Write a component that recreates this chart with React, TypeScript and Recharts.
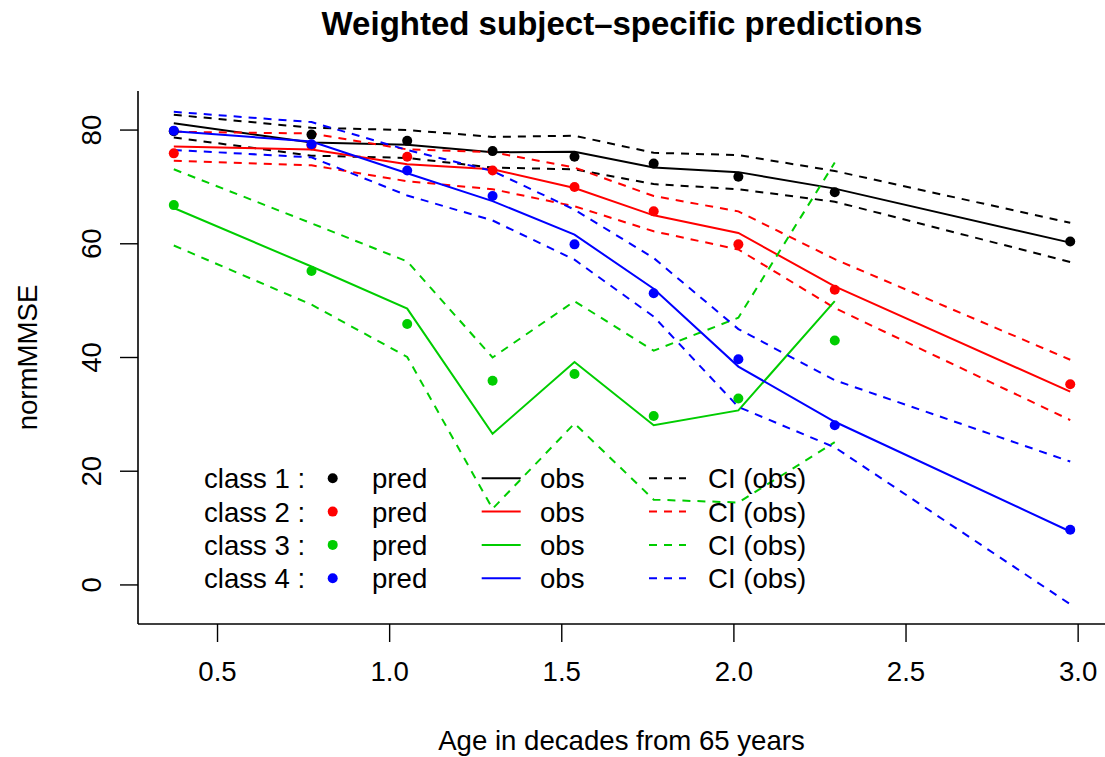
import { ComposedChart, Line, Scatter, XAxis, YAxis, Legend, Customized } from "recharts"

// time points (decades from 65)
const ages = [0.373, 0.773, 1.051, 1.299, 1.537, 1.767, 2.013, 2.293, 2.977]
const classNames = ["class 1", "class 2", "class 3", "class 4"]
const colors = ["#000000", "#FF0000", "#00CD00", "#0000FF"]
const xTicks = [0.5, 1.0, 1.5, 2.0, 2.5, 3.0]
const yTicks = [0, 20, 40, 60, 80]

// weighted predictions (points)
const pred1 = [79.8, 79.2, 78.1, 76.3, 75.3, 74.1, 71.8, 69.05, 60.4]
const pred2 = [75.9, 77.3, 75.3, 72.9, 70.0, 65.7, 59.9, 51.9, 35.3]
const pred3 = [66.8, 55.2, 45.9, 35.9, 37.1, 29.7, 32.8, 43.0]
const pred4 = [79.9, 77.5, 72.9, 68.4, 59.9, 51.3, 39.7, 28.1, 9.7]

// observed means (solid)
const obs1 = [81.2, 77.8, 77.4, 76.1, 76.2, 73.4, 72.6, 69.7, 60.2]
const obs2 = [77.1, 76.6, 74.0, 73.1, 69.8, 65.0, 61.9, 52.5, 34.0]
const obs3 = [66.3, 56.0, 48.6, 26.6, 39.2, 28.1, 30.7, 49.9]
const obs4 = [79.8, 78.0, 72.4, 67.5, 61.6, 52.1, 38.4, 28.7, 9.4]

// confidence bounds (dashed)
const up1 = [82.7, 80.4, 80.0, 78.8, 79.0, 76.0, 75.6, 72.8, 63.7]
const lo1 = [78.7, 75.5, 75.1, 73.4, 73.1, 70.5, 69.6, 67.4, 56.8]
const up2 = [79.7, 79.4, 76.6, 76.1, 73.4, 68.4, 65.7, 57.3, 39.6]
const lo2 = [74.6, 73.8, 71.0, 69.6, 66.6, 62.2, 59.0, 48.7, 29.0]
const up3 = [73.1, 63.6, 56.9, 40.0, 49.9, 41.2, 47.0, 74.3]
const lo3 = [59.7, 49.3, 40.1, 13.4, 28.4, 15.0, 14.5, 25.1]
const up4 = [83.2, 81.4, 76.5, 72.8, 66.0, 57.5, 45.0, 36.0, 21.7]
const lo4 = [76.5, 75.2, 68.5, 64.1, 57.2, 47.2, 31.3, 24.2, -3.4]

const preds = [pred1, pred2, pred3, pred4]
const obss = [obs1, obs2, obs3, obs4]
const ups = [up1, up2, up3, up4]
const los = [lo1, lo2, lo3, lo4]

const toPts = (ys: number[]) => ys.map((y, i) => ({ x: ages[i], y }))

const font = '"Liberation Sans", Arial, Helvetica, sans-serif'
const fs = 27.6
const dash = "8 7"

function XTick({ x, y, payload }: any) {
  return (
    <text x={x} y={y + 39} textAnchor="middle" fontSize={fs} fontFamily={font} fill="#000">
      {Number(payload.value).toFixed(1)}
    </text>
  )
}

function YTick({ x, y, payload }: any) {
  return (
    <g transform={`translate(${x},${y})`}>
      <text transform="rotate(-90)" x={0} y={-19} textAnchor="middle" fontSize={fs} fontFamily={font} fill="#000">
        {payload.value}
      </text>
    </g>
  )
}

function Title() {
  return (
    <text x={622} y={35} textAnchor="middle" fontSize={33} fontWeight="bold" fontFamily={font} fill="#000">
      Weighted subject–specific predictions
    </text>
  )
}

function LegendBox() {
  return (
    <svg width={1105} height={757} style={{ display: "block", pointerEvents: "none" }}>
      {classNames.map((name, i) => {
        const cy = 478.3 + 33.3 * i
        const by = cy + 10
        const c = colors[i]
        return (
          <g key={name} fontFamily={font} fontSize={fs} fill="#000">
            <text x={204} y={by}>{name} :</text>
            <circle cx={332.7} cy={cy} r={5} fill={c} />
            <text x={372} y={by}>pred</text>
            <line x1={481.7} x2={520.7} y1={cy} y2={cy} stroke={c} strokeWidth={2} />
            <text x={540} y={by}>obs</text>
            <line x1={649} x2={686} y1={cy} y2={cy} stroke={c} strokeWidth={2} strokeDasharray={dash} />
            <text x={708} y={by}>CI (obs)</text>
          </g>
        )
      })}
    </svg>
  )
}

export default function App() {
  return (
    <div style={{ position: "absolute", left: 0, top: 0, width: 1105, height: 757, background: "#fff" }}>
      <ComposedChart width={1105} height={757} margin={{ top: 91, right: 0, bottom: 0, left: 0 }}>
        <XAxis
          type="number"
          dataKey="x"
          domain={[0.269, 3.078]}
          allowDataOverflow
          ticks={xTicks}
          interval={0}
          height={133}
          tickSize={18}
          tickMargin={0}
          tick={<XTick />}
          axisLine={{ stroke: "#000", strokeWidth: 1.6 }}
          tickLine={{ stroke: "#000", strokeWidth: 1.4 }}
          label={{
            content: ({ viewBox }: any) => (
              <text x={viewBox.x + viewBox.width / 2} y={750} textAnchor="middle" fontSize={fs} fontFamily={font} fill="#000">
                Age in decades from 65 years
              </text>
            ),
          }}
        />
        <YAxis
          type="number"
          dataKey="y"
          domain={[-6.87, 86.87]}
          allowDataOverflow
          ticks={yTicks}
          interval={0}
          width={138}
          tickSize={18}
          tickMargin={0}
          tick={<YTick />}
          axisLine={{ stroke: "#000", strokeWidth: 1.6 }}
          tickLine={{ stroke: "#000", strokeWidth: 1.4 }}
          label={{
            content: ({ viewBox }: any) => {
              const cy = viewBox.y + viewBox.height / 2
              return (
                <text transform={`rotate(-90 37 ${cy})`} x={37} y={cy} textAnchor="middle" fontSize={fs} fontFamily={font} fill="#000">
                  normMMSE
                </text>
              )
            },
          }}
        />
        {classNames.map((name, i) => [
          <Line key={`up${i}`} data={toPts(ups[i])} dataKey="y" type="linear" stroke={colors[i]} strokeWidth={2} strokeDasharray={dash} dot={false} activeDot={false} isAnimationActive={false} />,
          <Line key={`lo${i}`} data={toPts(los[i])} dataKey="y" type="linear" stroke={colors[i]} strokeWidth={2} strokeDasharray={dash} dot={false} activeDot={false} isAnimationActive={false} />,
          <Line key={`obs${i}`} data={toPts(obss[i])} dataKey="y" type="linear" stroke={colors[i]} strokeWidth={2} dot={false} activeDot={false} isAnimationActive={false} />,
        ])}
        {classNames.map((name, i) => (
          <Scatter
            key={`pred${i}`}
            name={name}
            data={toPts(preds[i])}
            fill={colors[i]}
            isAnimationActive={false}
            shape={(p: any) => <circle cx={p.cx} cy={p.cy} r={5} fill={colors[i]} />}
          />
        ))}
        <Legend
          content={<LegendBox />}
          layout="horizontal"
          verticalAlign="middle"
          align="center"
          wrapperStyle={{ position: "absolute", left: 0, top: 0, width: 1105, height: 757, pointerEvents: "none" }}
        />
        <Customized component={Title} />
      </ComposedChart>
    </div>
  )
}
